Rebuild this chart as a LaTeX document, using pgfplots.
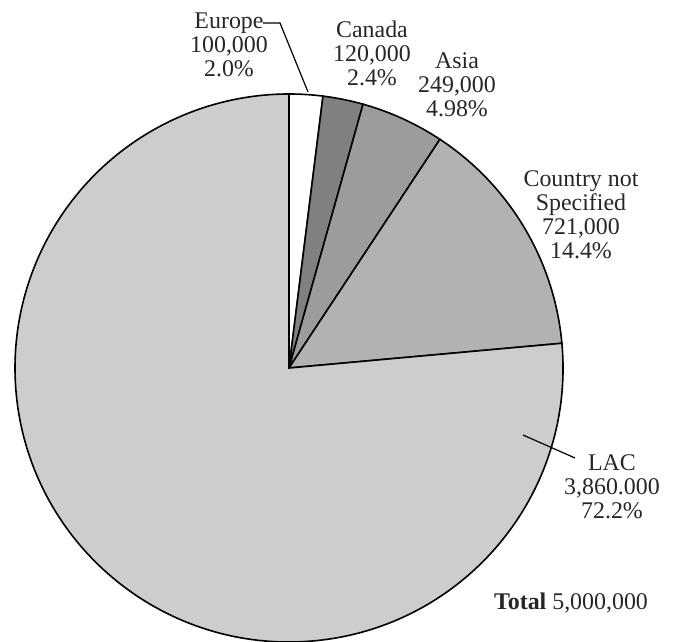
\documentclass[border=0pt]{standalone}
\usepackage{pgfplots}
\pgfplotsset{compat=1.18}
\usepackage{pgfplotstable}
\usepackage{fontspec}
\setmainfont{Liberation Serif}

\definecolor{cEurope}{RGB}{255,255,255}
\definecolor{cCanada}{RGB}{128,128,128}
\definecolor{cAsia}{RGB}{156,156,156}
\definecolor{cCNS}{RGB}{178,178,178}
\definecolor{cLAC}{RGB}{205,205,205}

% values in thousands
\pgfplotstableread{
region value
Europe 100
Canada 120
Asia 249
CNS 721
LAC 3860
}\piedata

\pgfplotstablegetelem{0}{value}\of\piedata\let\vA\pgfplotsretval
\pgfplotstablegetelem{1}{value}\of\piedata\let\vB\pgfplotsretval
\pgfplotstablegetelem{2}{value}\of\piedata\let\vC\pgfplotsretval
\pgfplotstablegetelem{3}{value}\of\piedata\let\vD\pgfplotsretval
\pgfplotstablegetelem{4}{value}\of\piedata\let\vE\pgfplotsretval
\pgfmathsetmacro\tot{\vA+\vB+\vC+\vD+\vE}
\pgfmathsetmacro\aA{90}
\pgfmathsetmacro\aB{\aA-\vA/\tot*360}
\pgfmathsetmacro\aC{\aB-\vB/\tot*360}
\pgfmathsetmacro\aD{\aC-\vC/\tot*360}
\pgfmathsetmacro\aE{\aD-\vD/\tot*360}
\pgfmathsetmacro\aF{\aE-\vE/\tot*360}

\begin{document}
\begin{tikzpicture}
\begin{axis}[x=0.5bp, y=0.5bp, xmin=0, xmax=674, ymin=0, ymax=642,
  hide axis, clip=false, scale only axis]
\addplot[draw=none] coordinates {(0,0) (674,642)};
\def\R{137bp}
\filldraw[fill=cEurope, draw=black, line width=0.8bp] (axis cs:289,274) -- ++(\aA:\R) arc[start angle=\aA, end angle=\aB, radius=\R] -- cycle;
\filldraw[fill=cCanada, draw=black, line width=0.8bp] (axis cs:289,274) -- ++(\aB:\R) arc[start angle=\aB, end angle=\aC, radius=\R] -- cycle;
\filldraw[fill=cAsia, draw=black, line width=0.8bp] (axis cs:289,274) -- ++(\aC:\R) arc[start angle=\aC, end angle=\aD, radius=\R] -- cycle;
\filldraw[fill=cCNS, draw=black, line width=0.8bp] (axis cs:289,274) -- ++(\aD:\R) arc[start angle=\aD, end angle=\aE, radius=\R] -- cycle;
\filldraw[fill=cLAC, draw=black, line width=0.8bp] (axis cs:289,274) -- ++(\aE:\R) arc[start angle=\aE, end angle=\aF, radius=\R] -- cycle;

\tikzset{lbl/.style={align=center, inner sep=0pt, font=\fontsize{12}{12}\selectfont, text=black!85}}
\node[lbl] at (axis cs:229,597) {Europe\\100,000\\2.0\%};
\node[lbl] at (axis cs:372,589) {Canada\\120,000\\2.4\%};
\node[lbl] at (axis cs:457,557) {Asia\\249,000\\4.98\%};
\node[lbl] at (axis cs:581,427) {Country not\\Specified\\721,000\\14.4\%};
\node[lbl] at (axis cs:612,155) {LAC\\3,860.000\\72.2\%};
\node[lbl] at (axis cs:571,39) {\textbf{Total} 5,000,000};
\draw[black, line width=0.6bp] (axis cs:263,619) -- (axis cs:280,619) -- (axis cs:308,550);
\draw[black, line width=0.6bp] (axis cs:523,207) -- (axis cs:575,184);
\end{axis}
\pgfresetboundingbox
\path (current axis.south west) rectangle (current axis.north east);
\end{tikzpicture}
\end{document}
